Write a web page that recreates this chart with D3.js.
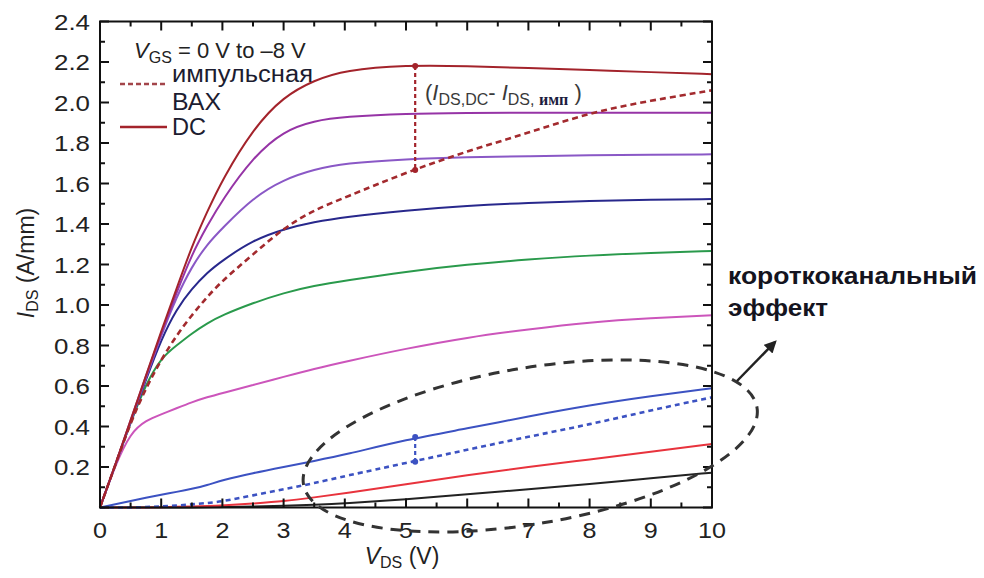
<!DOCTYPE html>
<html>
<head>
<meta charset="utf-8">
<script src="https://cdn.jsdelivr.net/npm/d3@7"></script>
<style>
  body { margin: 0; background: #fff; }
  svg { font-family: "Liberation Sans", Arial, sans-serif; }
</style>
</head>
<body>
<div id="chart"></div>
<script>
// sample points along V_DS (V)
var vds = [0, 0.25, 0.5, 0.75, 1, 1.25, 1.5, 1.75, 2, 2.5, 3, 3.5, 4, 5, 6, 7, 8, 9, 10];

// I_DS (A/mm), DC curves, V_GS = 0 ... -8 V
var dc0 = [0, 0.21, 0.43, 0.65, 0.87, 1.08, 1.29, 1.46, 1.62, 1.87, 2.03, 2.11, 2.16, 2.185, 2.18, 2.17, 2.16, 2.15, 2.14];
var dc1 = [0, 0.21, 0.43, 0.65, 0.86, 1.06, 1.25, 1.39, 1.52, 1.73, 1.86, 1.91, 1.93, 1.945, 1.948, 1.95, 1.95, 1.95, 1.95];
var dc2 = [0, 0.21, 0.42, 0.64, 0.85, 1.04, 1.19, 1.30, 1.38, 1.53, 1.62, 1.67, 1.70, 1.72, 1.73, 1.735, 1.74, 1.742, 1.744];
var dc3 = [0, 0.21, 0.42, 0.63, 0.83, 0.98, 1.08, 1.16, 1.22, 1.32, 1.375, 1.41, 1.435, 1.467, 1.49, 1.505, 1.515, 1.52, 1.523];
var dc4 = [0, 0.21, 0.42, 0.61, 0.74, 0.80, 0.86, 0.91, 0.95, 1.01, 1.06, 1.095, 1.12, 1.165, 1.20, 1.225, 1.245, 1.258, 1.267];
var dc5 = [0, 0.21, 0.37, 0.43, 0.46, 0.49, 0.52, 0.545, 0.565, 0.605, 0.645, 0.685, 0.72, 0.785, 0.84, 0.88, 0.915, 0.935, 0.949];
var dc6 = [0, 0.016, 0.032, 0.048, 0.063, 0.077, 0.092, 0.11, 0.135, 0.17, 0.20, 0.23, 0.26, 0.335, 0.39, 0.45, 0.505, 0.55, 0.589];
var dc7 = [0, 0, 0, 0, 0.002, 0.003, 0.005, 0.007, 0.01, 0.02, 0.03, 0.05, 0.07, 0.115, 0.16, 0.20, 0.237, 0.275, 0.314];
var dc8 = [0, 0, 0, 0, 0, 0, 0, 0.001, 0.002, 0.005, 0.008, 0.013, 0.02, 0.04, 0.065, 0.09, 0.115, 0.145, 0.172];

// pulsed curves
var pulse0 = [0, 0.21, 0.42, 0.59, 0.73, 0.85, 0.95, 1.04, 1.12, 1.25, 1.38, 1.47, 1.53, 1.655, 1.76, 1.85, 1.95, 2.01, 2.06];
var pulse6 = [0, 0, 0, 0.002, 0.005, 0.01, 0.015, 0.022, 0.03, 0.06, 0.09, 0.12, 0.155, 0.22, 0.285, 0.35, 0.41, 0.48, 0.544];

var xTicks = [0, 1, 2, 3, 4, 5, 6, 7, 8, 9, 10];
var yTicks = [0.2, 0.4, 0.6, 0.8, 1.0, 1.2, 1.4, 1.6, 1.8, 2.0, 2.2, 2.4];

// marked gap at V_DS = 5.15 V
var gapV = 5.15;
var gapTop = [2.18, 0.348];
var gapBottom = [1.667, 0.226];

var margin = {top: 21.5, left: 100},
    width = 612,
    height = 486;

var svg = d3.select("#chart").append("svg")
    .attr("width", 984)
    .attr("height", 578);

var defs = svg.append("defs");
defs.append("marker")
    .attr("id", "arrow")
    .attr("viewBox", "0 0 10 10")
    .attr("refX", 8).attr("refY", 5)
    .attr("markerWidth", 5).attr("markerHeight", 5)
    .attr("orient", "auto")
  .append("path")
    .attr("d", "M0,0 L10,5 L0,10 z")
    .attr("fill", "#222");

var g = svg.append("g")
    .attr("transform", "translate(" + margin.left + "," + margin.top + ")");

var x = d3.scaleLinear().domain([0, 10]).range([0, width]);
var y = d3.scaleLinear().domain([0, 2.4]).range([height, 0]);

// smooth curves like the measured ones
var line = d3.line()
    .x(function(d) { return x(d[0]); })
    .y(function(d) { return y(d[1]); })
    .curve(d3.curveBasis);

function pts(arr) { return vds.map(function(v, i) { return [v, arr[i]]; }); }

var series = [
  {v: dc8, color: "#222222", dash: null},
  {v: dc7, color: "#e8333d", dash: null},
  {v: dc6, color: "#3c52c2", dash: null},
  {v: pulse6, color: "#3c52c2", dash: "5,4"},
  {v: dc5, color: "#cc55bb", dash: null},
  {v: dc4, color: "#2a9a4c", dash: null},
  {v: dc3, color: "#28288c", dash: null},
  {v: dc2, color: "#8a58c6", dash: null},
  {v: dc1, color: "#9634a6", dash: null},
  {v: pulse0, color: "#a32a2e", dash: "6,4"},
  {v: dc0, color: "#a3232b", dash: null}
];

g.selectAll("path.curve")
    .data(series)
    .enter().append("path")
    .attr("class", "curve")
    .attr("d", function(d) { return line(pts(d.v)); })
    .attr("fill", "none")
    .attr("stroke", function(d) { return d.color; })
    .attr("stroke-width", function(d) { return d.dash ? 2.6 : 2; })
    .attr("stroke-dasharray", function(d) { return d.dash; });

// gap markers
var gapColors = ["#a3232b", "#3c52c2"];
gapTop.forEach(function(t, i) {
  g.append("line")
      .attr("x1", x(gapV)).attr("x2", x(gapV))
      .attr("y1", y(t)).attr("y2", y(gapBottom[i]))
      .attr("stroke", gapColors[i])
      .attr("stroke-width", 2.2)
      .attr("stroke-dasharray", "4,3");
  [t, gapBottom[i]].forEach(function(val) {
    g.append("circle")
        .attr("cx", x(gapV)).attr("cy", y(val))
        .attr("r", 3)
        .attr("fill", gapColors[i]);
  });
});

// frame
g.append("rect")
    .attr("width", width).attr("height", height)
    .attr("fill", "none")
    .attr("stroke", "#111")
    .attr("stroke-width", 2);

// inward ticks
var tickG = g.append("g").attr("stroke", "#111").attr("stroke-width", 2);
d3.range(0, 10.01, 0.5).forEach(function(v) {
  var major = Math.abs(v - Math.round(v)) < 1e-6;
  var len = major ? 9 : 5;
  tickG.append("line").attr("x1", x(v)).attr("x2", x(v)).attr("y1", height).attr("y2", height - len);
  tickG.append("line").attr("x1", x(v)).attr("x2", x(v)).attr("y1", 0).attr("y2", len);
});
d3.range(0, 2.401, 0.1).forEach(function(v, i) {
  var len = i % 2 === 0 ? 9 : 5;
  tickG.append("line").attr("x1", 0).attr("x2", len).attr("y1", y(v)).attr("y2", y(v));
  tickG.append("line").attr("x1", width).attr("x2", width - len).attr("y1", y(v)).attr("y2", y(v));
});

// tick labels (the source image is a little stretched sideways)
g.selectAll("text.xt")
    .data(xTicks)
    .enter().append("text")
    .attr("class", "xt")
    .attr("x", function(d) { return x(d); })
    .attr("y", height + 30)
    .attr("text-anchor", "middle")
    .attr("font-size", 22)
    .attr("textLength", function(d) { return String(d).length * 14; })
    .attr("lengthAdjust", "spacingAndGlyphs")
    .attr("fill", "#222")
    .text(function(d) { return d; });

g.selectAll("text.yt")
    .data(yTicks)
    .enter().append("text")
    .attr("class", "yt")
    .attr("x", -10)
    .attr("y", function(d) { return y(d) + 8; })
    .attr("text-anchor", "end")
    .attr("font-size", 22)
    .attr("textLength", 36)
    .attr("lengthAdjust", "spacingAndGlyphs")
    .attr("fill", "#222")
    .text(function(d) { return d.toFixed(1); });

// axis titles
var xt = svg.append("text")
    .attr("x", 402).attr("y", 564)
    .attr("text-anchor", "middle")
    .attr("font-size", 23)
    .attr("fill", "#222");
xt.append("tspan").attr("font-style", "italic").text("V");
xt.append("tspan").attr("font-size", 16).attr("dy", 4).text("DS");
xt.append("tspan").attr("dy", -4).text(" (V)");

var yt = svg.append("text")
    .attr("transform", "translate(34,263) rotate(-90)")
    .attr("text-anchor", "middle")
    .attr("font-size", 23)
    .attr("fill", "#222");
yt.append("tspan").attr("font-style", "italic").text("I");
yt.append("tspan").attr("font-size", 16).attr("dy", 4).text("DS");
yt.append("tspan").attr("dy", -4).text(" (A/mm)");

// legend
var lg = svg.append("text")
    .attr("x", 134).attr("y", 58)
    .attr("font-size", 22)
    .attr("fill", "#222");
lg.append("tspan").attr("font-style", "italic").text("V");
lg.append("tspan").attr("font-size", 16).attr("dy", 5).text("GS");
lg.append("tspan").attr("dy", -5).text(" = 0 V to \u20138 V");

svg.append("line")
    .attr("x1", 120).attr("x2", 167).attr("y1", 84).attr("y2", 84)
    .attr("stroke", "#a3454a").attr("stroke-width", 2.6)
    .attr("stroke-dasharray", "5,3");
svg.append("line")
    .attr("x1", 120).attr("x2", 167).attr("y1", 127).attr("y2", 127)
    .attr("stroke", "#a3232b").attr("stroke-width", 2.6);
[["импульсная", 82, 141], ["ВАХ", 110, 49], ["DC", 135, 34]].forEach(function(d) {
  svg.append("text")
      .attr("x", 172).attr("y", d[1])
      .attr("font-size", 23)
      .attr("textLength", d[2])
      .attr("lengthAdjust", "spacingAndGlyphs")
      .attr("fill", "#1c1c30")
      .text(d[0]);
});

// gap label
var gl = svg.append("text")
    .attr("x", 425).attr("y", 100)
    .attr("font-size", 22)
    .attr("fill", "#3a3a3a");
gl.append("tspan").text("(");
gl.append("tspan").attr("font-style", "italic").text("I");
gl.append("tspan").attr("font-size", 16).attr("dy", 5).text("DS,DC");
gl.append("tspan").attr("dy", -5).text("- ");
gl.append("tspan").attr("font-style", "italic").text("I");
gl.append("tspan").attr("font-size", 16).attr("dy", 5).text("DS, ");
gl.append("tspan").attr("font-size", 16).attr("font-family", "Liberation Serif, serif").attr("font-weight", "bold").attr("fill", "#1c1c40").text("имп");
gl.append("tspan").attr("dy", -5).text(" )");

// short-channel ellipse
g.append("ellipse")
    .attr("transform", "translate(" + x(7.03) + "," + y(0.304) + ") rotate(-9.65)")
    .attr("rx", 230).attr("ry", 78)
    .attr("fill", "none")
    .attr("stroke", "#333")
    .attr("stroke-width", 3)
    .attr("stroke-dasharray", "11,8");

svg.append("line")
    .attr("x1", 737).attr("y1", 381)
    .attr("x2", 775).attr("y2", 342)
    .attr("stroke", "#222")
    .attr("stroke-width", 2.5)
    .attr("marker-end", "url(#arrow)");

[["короткоканальный", 284, 249], ["эффект", 316, 100]].forEach(function(d) {
  svg.append("text")
      .attr("x", 728).attr("y", d[1])
      .attr("font-size", 23)
      .attr("font-weight", "bold")
      .attr("textLength", d[2])
      .attr("lengthAdjust", "spacingAndGlyphs")
      .attr("fill", "#141420")
      .text(d[0]);
});
</script>
</body>
</html>
